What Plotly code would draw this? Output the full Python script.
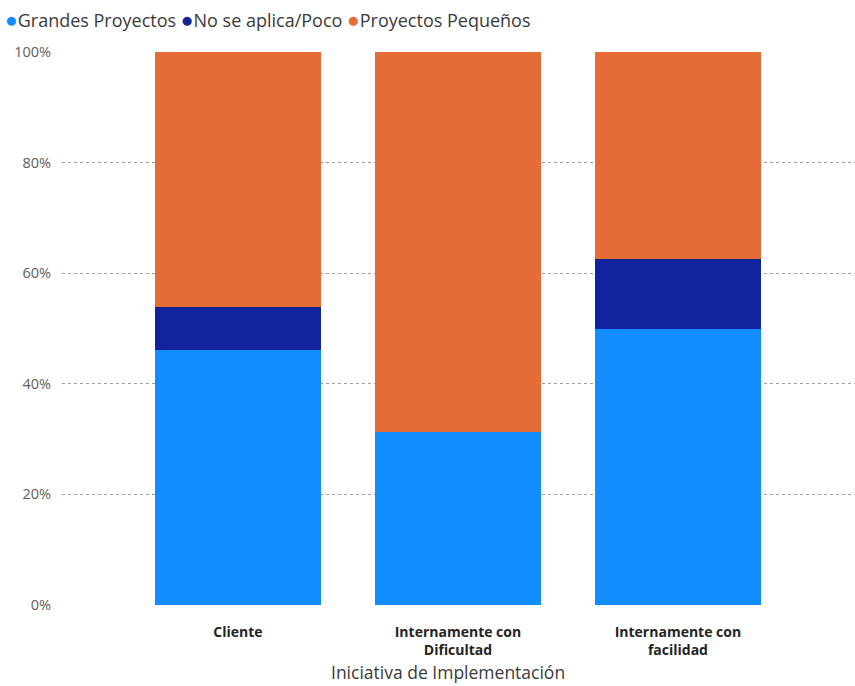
import plotly.graph_objects as go

# Share of each project size by implementation initiative
categories = ["Cliente", "Internamente con<br>Dificultad", "Internamente con<br>facilidad"]
series_names = ["Grandes Proyectos", "No se aplica/Poco", "Proyectos Pequeños"]
grandes = [6 / 13, 5 / 16, 4 / 8]
no_aplica = [1 / 13, 0.0, 1 / 8]
pequenos = [6 / 13, 11 / 16, 3 / 8]
colors = ["#118DFF", "#12239E", "#E66C37"]

FONT = "Open Sans, Segoe UI, sans-serif"
W, H = 855, 686
M_L, M_R, M_T, M_B = 62, 0, 52, 81
PLOT_W, PLOT_H = W - M_L - M_R, H - M_T - M_B

fig = go.Figure()
for name, vals, col in zip(series_names, [grandes, no_aplica, pequenos], colors):
    fig.add_trace(go.Bar(
        x=list(range(len(categories))), y=vals, name=name,
        marker=dict(color=col, line=dict(width=0)),
        width=0.755, showlegend=False,
        hovertemplate="%{y:.1%}<extra>" + name + "</extra>",
    ))

# Compact legend line with round swatches
legend_text = " ".join(
    f"<span style='color:{c};font-size:21px'>●</span>{n}"
    for n, c in zip(series_names, colors)
)
fig.add_annotation(
    text=legend_text, xref="paper", yref="paper",
    x=(3 - M_L) / PLOT_W, y=1 + (M_T - 19) / PLOT_H,
    xanchor="left", yanchor="middle", showarrow=False,
    font=dict(family=FONT, size=18, color="#3a3a3a"),
)

# Axis title, centred under the category labels
fig.add_annotation(
    text="Iniciativa de Implementación", xref="paper", yref="paper",
    x=(448 - M_L) / PLOT_W, y=-(686 - (M_T + PLOT_H)) / PLOT_H,
    xanchor="center", yanchor="bottom", showarrow=False,
    font=dict(family=FONT, size=17.5, color="#3a3a3a"),
)

fig.update_layout(
    barmode="stack",
    width=W, height=H,
    margin=dict(l=M_L, r=M_R, t=M_T, b=M_B),
    paper_bgcolor="white", plot_bgcolor="white",
    bargap=0,
    font=dict(family=FONT, color="#605E5C"),
)
fig.update_xaxes(
    tickmode="array", tickvals=list(range(len(categories))),
    ticktext=[f"<b>{c}</b>" for c in categories],
    range=[-0.8, 2.805], showgrid=False, zeroline=False, showline=False,
    tickfont=dict(size=14, color="#252423"),
    ticks="outside", ticklen=14, tickcolor="rgba(0,0,0,0)",
    automargin=False,
)
fig.update_yaxes(
    range=[0, 1], tickformat=".0%", dtick=0.2,
    showgrid=True, gridcolor="#A19F9D", griddash="dot", gridwidth=1,
    zeroline=False, showline=False,
    tickfont=dict(size=14.5, color="#605E5C"),
    ticks="outside", ticklen=7, tickcolor="rgba(0,0,0,0)",
    automargin=False,
)

fig.write_html("out.html")
